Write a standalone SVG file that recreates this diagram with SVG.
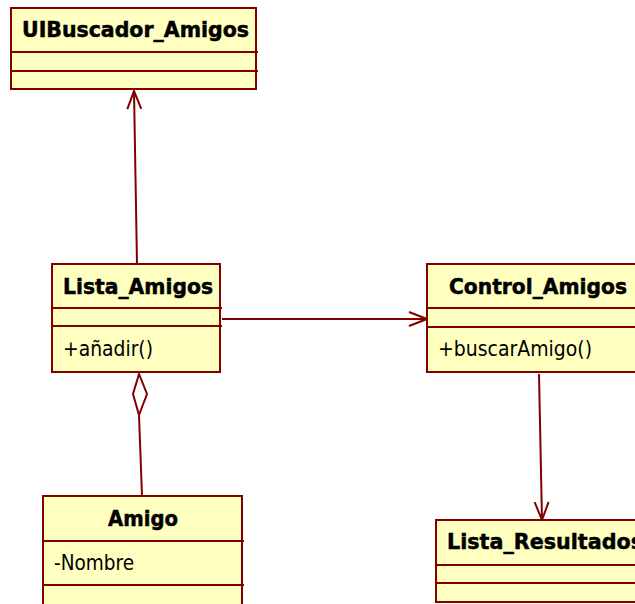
<svg xmlns="http://www.w3.org/2000/svg" width="635" height="604" viewBox="0 0 635 604">
  <style>
    .box { fill: #ffffc0; stroke: #800000; stroke-width: 2; }
    .div { stroke: #800000; stroke-width: 2; }
    .conn { fill: none; stroke: #800000; stroke-width: 2; }
    .name { font-family: "DejaVu Sans", Verdana, sans-serif; font-weight: bold; font-size: 21px; fill: #000; stroke: #000; stroke-width: 0.5; }
    .member { font-family: "DejaVu Sans", Verdana, sans-serif; font-size: 21px; fill: #000; }
  </style>
  <defs>
    <marker id="open" viewBox="0 0 20 20" refX="19" refY="10" markerWidth="20" markerHeight="20" markerUnits="userSpaceOnUse" orient="auto">
      <path d="M1,3 L19,10 L1,17" fill="none" stroke="#800000" stroke-width="2"/>
    </marker>
  </defs>

  <rect width="635" height="604" fill="#ffffff"/>

  <g id="UIBuscador_Amigos">
    <rect class="box" x="11" y="8" width="245" height="81"/>
    <line class="div" x1="11" y1="52" x2="258" y2="52"/>
    <line class="div" x1="11" y1="71" x2="258" y2="71"/>
    <text class="name" x="22" y="37" textLength="227" lengthAdjust="spacingAndGlyphs">UIBuscador_Amigos</text>
  </g>

  <g id="Lista_Amigos">
    <rect class="box" x="52" y="264" width="168" height="108"/>
    <line class="div" x1="52" y1="308" x2="222" y2="308"/>
    <line class="div" x1="52" y1="326" x2="222" y2="326"/>
    <text class="name" x="63" y="294" textLength="150" lengthAdjust="spacingAndGlyphs">Lista_Amigos</text>
    <text class="member" x="63" y="356" textLength="90" lengthAdjust="spacingAndGlyphs">+añadir()</text>
  </g>

  <g id="Control_Amigos">
    <rect class="box" x="427" y="264" width="220" height="108"/>
    <line class="div" x1="427" y1="308" x2="647" y2="308"/>
    <line class="div" x1="427" y1="327" x2="647" y2="327"/>
    <text class="name" x="449" y="294" textLength="178" lengthAdjust="spacingAndGlyphs">Control_Amigos</text>
    <text class="member" x="438" y="356" textLength="154" lengthAdjust="spacingAndGlyphs">+buscarAmigo()</text>
  </g>

  <g id="Amigo">
    <rect class="box" x="43" y="496" width="199" height="120"/>
    <line class="div" x1="43" y1="541" x2="244" y2="541"/>
    <line class="div" x1="43" y1="585" x2="244" y2="585"/>
    <text class="name" x="108" y="526" textLength="70" lengthAdjust="spacingAndGlyphs">Amigo</text>
    <text class="member" x="54" y="570" textLength="80" lengthAdjust="spacingAndGlyphs">-Nombre</text>
  </g>

  <g id="Lista_Resultados">
    <rect class="box" x="436" y="520" width="220" height="82"/>
    <line class="div" x1="436" y1="565" x2="656" y2="565"/>
    <line class="div" x1="436" y1="583" x2="656" y2="583"/>
    <text class="name" x="447" y="549" textLength="196" lengthAdjust="spacingAndGlyphs">Lista_Resultados</text>
  </g>

  <g id="connectors">
    <line class="conn" x1="137" y1="264" x2="134" y2="91" marker-end="url(#open)"/>
    <line class="conn" x1="222" y1="319" x2="427" y2="319" marker-end="url(#open)"/>
    <line class="conn" x1="539" y1="374" x2="542" y2="520" marker-end="url(#open)"/>
    <path class="conn" d="M139,374 L133,394 L139,415 L147,394 Z"/>
    <line class="conn" x1="139" y1="415" x2="142" y2="496"/>
  </g>
</svg>
